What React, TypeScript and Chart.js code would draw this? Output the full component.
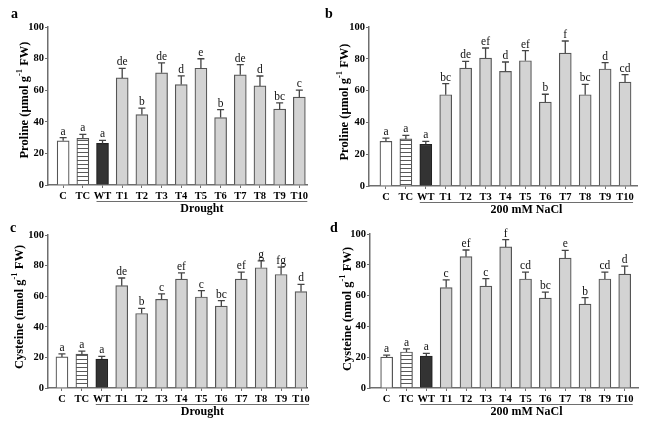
import React, { useEffect, useRef } from 'react';
import { Chart, registerables } from 'chart.js';

Chart.register(...registerables);

// ---------- data ----------
const categories = ['C', 'TC', 'WT', 'T1', 'T2', 'T3', 'T4', 'T5', 'T6', 'T7', 'T8', 'T9', 'T10'];
const yTicks = [0, 20, 40, 60, 80, 100];

const prolineDrought = [28, 29.5, 26.3, 67.8, 44.6, 71, 63.6, 73.9, 42.7, 69.7, 62.7, 48, 55.6];
const prolineDroughtErr = [2, 2.5, 2, 6, 4, 6.3, 5.5, 6, 5, 6.5, 6.3, 4, 4.5];
const prolineDroughtLetters = ['a', 'a', 'a', 'de', 'b', 'de', 'd', 'e', 'b', 'de', 'd', 'bc', 'c'];

const prolineSalt = [28.1, 29.6, 26.2, 57.4, 74.2, 80.5, 72.1, 78.8, 52.8, 83.6, 57.4, 73.6, 65.4];
const prolineSaltErr = [2, 2.3, 1.9, 7, 4.2, 6.3, 5.9, 6.3, 4.9, 7.6, 6.5, 4, 4.6];
const prolineSaltLetters = ['a', 'a', 'a', 'bc', 'de', 'ef', 'd', 'ef', 'b', 'f', 'bc', 'd', 'cd'];

const cysteineDrought = [20.3, 22.1, 18.9, 66.9, 48.7, 58, 71.2, 59.5, 53.5, 71.2, 78.6, 74.2, 63];
const cysteineDroughtErr = [2, 2, 1.8, 5, 3.3, 3.5, 4.1, 4.1, 3.6, 4.6, 4.5, 4.8, 4.7];
const cysteineDroughtLetters = ['a', 'a', 'a', 'de', 'b', 'c', 'ef', 'c', 'bc', 'ef', 'g', 'fg', 'd'];

const cysteineSalt = [20.1, 23.4, 20.8, 65.2, 85.3, 66.2, 91.6, 70.8, 58.4, 84.4, 54.5, 70.8, 74];
const cysteineSaltErr = [1.3, 2, 1.7, 5, 4.3, 4.8, 4.8, 4.5, 3.9, 5, 4.2, 4.5, 5.2];
const cysteineSaltLetters = ['a', 'a', 'a', 'c', 'ef', 'c', 'f', 'cd', 'bc', 'e', 'b', 'cd', 'd'];

const groupDrought = 'Drought';
const groupSalt = '200 mM NaCl';
const prolineTitle = ['Proline (μmol g', '-1', ' FW)'];
const cysteineTitle = ['Cysteine (nmol g', '-1', ' FW)'];

// ---------- styles ----------
const FONT = "'Liberation Serif', 'Times New Roman', serif";
const AXIS = '#6e6e6e';
const BAR_BORDER = '#555555';

function makeStripes(): CanvasPattern | string {
  const c = document.createElement('canvas');
  c.width = 4;
  c.height = 4;
  const g = c.getContext('2d');
  if (!g) return '#ddd';
  g.fillStyle = '#ffffff';
  g.fillRect(0, 0, 4, 4);
  g.fillStyle = '#5a5a5a';
  g.fillRect(0, 0, 4, 1);
  return g.createPattern(c, 'repeat') || '#ddd';
}

type PanelDef = {
  left: number; top: number; width: number; height: number;
  area: { l: number; r: number; t: number; b: number };
  xMin: number; xMax: number;
  values: number[]; errs: number[]; letters: string[];
  title: string[]; group: string;
  tag: string; tagX: number; tagY: number;
  titleX: number; titleY: number;
};

const Y_W = 22;
const X_H = 20;

function Panel(p: PanelDef) {
  const ref = useRef<HTMLCanvasElement>(null);
  useEffect(() => {
    if (!ref.current) return;
    const stripes = makeStripes();
    const fills = categories.map((c) =>
      c === 'C' ? '#ffffff' : c === 'TC' ? stripes : c === 'WT' ? '#333333' : '#d3d3d3'
    );
    const overlay = {
      id: 'overlay',
      afterDatasetsDraw(chart: any) {
        const ctx = chart.ctx as CanvasRenderingContext2D;
        const ys = chart.scales.y;
        const xs = chart.scales.x;
        const meta = chart.getDatasetMeta(0);
        ctx.save();
        // error bars + letters
        p.values.forEach((v, i) => {
          const bar = meta.data[i];
          const x = bar.x;
          const y0 = ys.getPixelForValue(v);
          const y1 = ys.getPixelForValue(v + p.errs[i]);
          ctx.strokeStyle = '#444';
          ctx.lineWidth = 1.3;
          ctx.beginPath();
          ctx.moveTo(x, y0);
          ctx.lineTo(x, y1);
          ctx.moveTo(x - 3.5, y1);
          ctx.lineTo(x + 3.5, y1);
          ctx.stroke();
          ctx.fillStyle = '#111';
          ctx.font = `11.5px ${FONT}`;
          ctx.textAlign = 'center';
          ctx.textBaseline = 'alphabetic';
          ctx.fillText(p.letters[i], x, y1 - 3);
        });
        // group underline + label
        const a = chart.chartArea;
        const gx0 = xs.getPixelForValue(2) - 6;
        const gx1 = xs.getPixelForValue(12) + 8;
        const gy = a.bottom + 16.5;
        ctx.strokeStyle = AXIS;
        ctx.lineWidth = 1;
        ctx.beginPath();
        ctx.moveTo(gx0, gy);
        ctx.lineTo(gx1, gy);
        ctx.stroke();
        ctx.fillStyle = '#000';
        ctx.font = `bold 12px ${FONT}`;
        ctx.textAlign = 'center';
        ctx.textBaseline = 'middle';
        ctx.fillText(p.group, (gx0 + gx1) / 2, a.bottom + 23.5);
        // panel tag
        ctx.font = `bold 14px ${FONT}`;
        ctx.textAlign = 'left';
        ctx.textBaseline = 'alphabetic';
        ctx.fillText(p.tag, p.tagX, p.tagY);
        // y title with superscript
        const mainF = `bold 12.5px ${FONT}`;
        const supF = `bold 8.5px ${FONT}`;
        ctx.font = mainF;
        const w0 = ctx.measureText(p.title[0]).width;
        const w2 = ctx.measureText(p.title[2]).width;
        ctx.font = supF;
        const w1 = ctx.measureText(p.title[1]).width;
        const total = w0 + w1 + w2;
        ctx.translate(p.titleX, p.titleY);
        ctx.rotate(-Math.PI / 2);
        ctx.textAlign = 'left';
        ctx.textBaseline = 'middle';
        let cx = -total / 2;
        ctx.font = mainF;
        ctx.fillText(p.title[0], cx, 0);
        cx += w0;
        ctx.font = supF;
        ctx.fillText(p.title[1], cx, -5);
        cx += w1;
        ctx.font = mainF;
        ctx.fillText(p.title[2], cx, 0);
        ctx.restore();
      },
    };
    const chart = new Chart(ref.current, {
      type: 'bar',
      data: {
        datasets: [
          {
            data: p.values.map((v, i) => ({ x: i, y: v })),
            backgroundColor: fills as any,
            borderColor: categories.map((c) => (c === 'WT' ? '#222' : BAR_BORDER)),
            borderWidth: 1.2,
            barThickness: 12,
          },
        ],
      },
      options: {
        animation: false,
        responsive: false,
        devicePixelRatio: 1,
        layout: {
          padding: {
            left: p.area.l - Y_W,
            right: p.width - p.area.r,
            top: p.area.t,
            bottom: p.height - p.area.b - X_H,
          },
        },
        plugins: { legend: { display: false }, tooltip: { enabled: false }, title: { display: false } },
        scales: {
          x: {
            type: 'linear',
            offset: false,
            min: p.xMin,
            max: p.xMax,
            afterBuildTicks: (s: any) => {
              s.ticks = categories.map((_, i) => ({ value: i }));
            },
            afterFit: (s: any) => {
              s.height = X_H;
            },
            ticks: {
              autoSkip: false,
              maxRotation: 0,
              padding: 2,
              color: '#000',
              font: { family: FONT, size: 10.5, weight: 'bold' },
              callback: (v: any) => categories[v as number] ?? '',
            },
            grid: { offset: false, drawOnChartArea: false, drawTicks: true, tickLength: 3, color: AXIS, lineWidth: 1 },
            border: { display: true, color: AXIS, width: 1.5 },
          },
          y: {
            min: 0,
            max: 100,
            afterBuildTicks: (s: any) => {
              s.ticks = yTicks.map((v) => ({ value: v }));
            },
            afterFit: (s: any) => {
              s.width = Y_W;
            },
            ticks: {
              padding: 1,
              color: '#000',
              font: { family: FONT, size: 10.5, weight: 'bold' },
            },
            grid: { drawOnChartArea: false, drawTicks: true, tickLength: 3, color: AXIS, lineWidth: 1 },
            border: { display: true, color: AXIS, width: 1.5 },
          },
        },
      } as any,
      plugins: [overlay],
    });
    return () => chart.destroy();
  }, []);
  return (
    <canvas
      ref={ref}
      width={p.width}
      height={p.height}
      style={{ position: 'absolute', left: p.left, top: p.top, width: p.width, height: p.height, display: 'block' }}
    />
  );
}

export default function App() {
  const panels: PanelDef[] = [
    {
      left: 0, top: 0, width: 322, height: 215,
      area: { l: 48, r: 307, t: 27, b: 185 }, xMin: -0.77, xMax: 12.39,
      values: prolineDrought, errs: prolineDroughtErr, letters: prolineDroughtLetters,
      title: prolineTitle, group: groupDrought, tag: 'a', tagX: 11, tagY: 18, titleX: 25, titleY: 100,
    },
    {
      left: 322, top: 0, width: 349, height: 215,
      area: { l: 47, r: 315, t: 27, b: 186 }, xMin: -0.85, xMax: 12.6,
      values: prolineSalt, errs: prolineSaltErr, letters: prolineSaltLetters,
      title: prolineTitle, group: groupSalt, tag: 'b', tagX: 3, tagY: 18, titleX: 23, titleY: 102,
    },
    {
      left: 0, top: 215, width: 322, height: 216,
      area: { l: 48, r: 307, t: 20, b: 173 }, xMin: -0.7, xMax: 12.3,
      values: cysteineDrought, errs: cysteineDroughtErr, letters: cysteineDroughtLetters,
      title: cysteineTitle, group: groupDrought, tag: 'c', tagX: 10, tagY: 17, titleX: 20, titleY: 92,
    },
    {
      left: 322, top: 215, width: 349, height: 216,
      area: { l: 48, r: 316, t: 19, b: 173 }, xMin: -0.84, xMax: 12.67,
      values: cysteineSalt, errs: cysteineSaltErr, letters: cysteineSaltLetters,
      title: cysteineTitle, group: groupSalt, tag: 'd', tagX: 8, tagY: 17, titleX: 26, titleY: 94,
    },
  ];
  return (
    <div style={{ position: 'absolute', left: 0, top: 0, width: 671, height: 431, background: '#fff', overflow: 'hidden' }}>
      {panels.map((p) => (
        <Panel key={p.tag} {...p} />
      ))}
    </div>
  );
}
